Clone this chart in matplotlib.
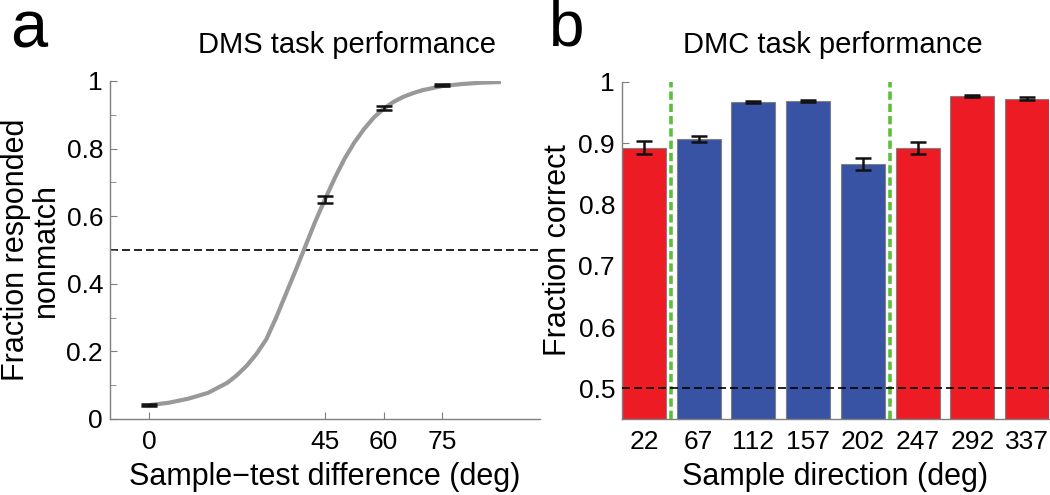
import matplotlib
matplotlib.use("Agg")
import matplotlib.pyplot as plt
import numpy as np

plt.rcParams['font.family'] = ['Liberation Sans', 'DejaVu Sans']

# ---- Panel a data ----
dms_x = [0, 45, 60, 75]
dms_y = [0.040, 0.650, 0.920, 0.988]
dms_err = [0.003, 0.010, 0.005, 0.002]
curve_x = [0, 5, 10, 15, 20, 22.5, 25, 27.5, 30, 32.5, 35, 37.5, 40, 42.5, 45, 47.5,
           50, 52.5, 55, 57.5, 60, 62.5, 65, 67.5, 70, 75, 80, 85, 90]
curve_y = [0.041, 0.048, 0.060, 0.077, 0.107, 0.130, 0.158, 0.193, 0.236, 0.300, 0.370,
           0.440, 0.512, 0.584, 0.650, 0.713, 0.770, 0.818, 0.858, 0.892, 0.918, 0.938,
           0.953, 0.964, 0.973, 0.985, 0.991, 0.995, 0.997]
dms_xticks = [0, 45, 60, 75]

# ---- Panel b data ----
directions = ['22', '67', '112', '157', '202', '247', '292', '337']
dmc_vals = [0.893, 0.907, 0.967, 0.969, 0.866, 0.892, 0.977, 0.973]
dmc_err = [0.010, 0.0055, 0.002, 0.002, 0.0095, 0.010, 0.002, 0.002]
bar_colors = ['#ed1c24', '#3953a4', '#3953a4', '#3953a4', '#3953a4', '#ed1c24', '#ed1c24', '#ed1c24']
boundaries = [1.5, 5.5]

W, H = 1050, 495
fig = plt.figure(figsize=(10.5, 4.95), dpi=100)

def ax_rect(l, r, t, b):
    return [l / W, 1 - b / H, (r - l) / W, (b - t) / H]

spine_col = '#7f7f7f'
tick_fs = 19
lab_fs = 22

# ---- Panel a ----
ax1 = fig.add_axes(ax_rect(110, 540, 81, 419))
ax1.plot(curve_x, curve_y, color='#999999', lw=3, solid_capstyle='butt',
         solid_joinstyle='round', zorder=2)
ax1.axhline(0.5, color='black', lw=1.2, dashes=(4.8, 2.4), zorder=1)
ax1.errorbar(dms_x, dms_y, yerr=dms_err, fmt='none', ecolor='#111111', elinewidth=1.8,
             capsize=5.5, capthick=1.8, zorder=3)
ax1.set_xlim(-10, 100)
ax1.set_ylim(0, 1)
ax1.set_xticks(dms_xticks)
ax1.set_xticklabels([str(v) for v in dms_xticks])
ax1.set_yticks([0, 0.2, 0.4, 0.6, 0.8, 1.0])
ax1.set_yticklabels(['0', '0.2', '0.4', '0.6', '0.8', '1'])
ax1.set_yticks(np.arange(0.1, 1.0, 0.2), minor=True)
ax1.set_xlabel('Sample\u2212test difference (deg)', fontsize=lab_fs, labelpad=6)
ax1.set_ylabel('Fraction responded\nnonmatch', fontsize=lab_fs, labelpad=4, linespacing=1.0)

# ---- Panel b ----
ax2 = fig.add_axes(ax_rect(622, 1049, 82, 419))
pos = np.arange(1, len(directions) + 1)
ax2.bar(pos, dmc_vals, width=0.8, color=bar_colors, edgecolor='#808080', linewidth=0.8, zorder=2)
ax2.errorbar(pos, dmc_vals, yerr=dmc_err, fmt='none', ecolor='#111111', elinewidth=1.8,
             capsize=5.5, capthick=1.8, zorder=4)
for b in boundaries:
    ax2.axvline(b, color='#5cbf3c', lw=2.6, dashes=(2.3, 1.1), zorder=3)
ax2.axhline(0.5, color='black', lw=1.2, dashes=(4.8, 2.4), zorder=5)
ax2.set_xlim(0.6, 8.4)
ax2.set_ylim(0.45, 1)
ax2.set_xticks(pos)
ax2.set_xticklabels(directions)
ax2.set_yticks([0.5, 0.6, 0.7, 0.8, 0.9, 1.0])
ax2.set_yticklabels(['0.5', '0.6', '0.7', '0.8', '0.9', '1'])
ax2.set_xlabel('Sample direction (deg)', fontsize=lab_fs, labelpad=6)
ax2.set_ylabel('Fraction correct', fontsize=lab_fs, labelpad=4)

for ax in (ax1, ax2):
    for s in ('top', 'right'):
        ax.spines[s].set_visible(False)
    for s in ('left', 'bottom'):
        ax.spines[s].set_color(spine_col)
        ax.spines[s].set_linewidth(1.0)
    ax.tick_params(which='both', direction='in', color=spine_col, labelsize=tick_fs,
                   labelcolor='black', pad=5)
    ax.tick_params(which='major', length=5)
    ax.tick_params(which='minor', length=4)
ax2.tick_params(axis='x', length=0, pad=8)
ax1.tick_params(axis='x', pad=8)

# titles and panel letters
fig.text(347 / W, 1 - 45 / H, 'DMS task performance', fontsize=21, ha='center', va='center')
fig.text(833 / W, 1 - 45 / H, 'DMC task performance', fontsize=21, ha='center', va='center')
fig.text(29 / W, 1 - 31 / H, 'a', fontsize=48, ha='center', va='center')
fig.text(567 / W, 1 - 29 / H, 'b', fontsize=46, ha='center', va='center')

fig.savefig('out.png', dpi=100)
